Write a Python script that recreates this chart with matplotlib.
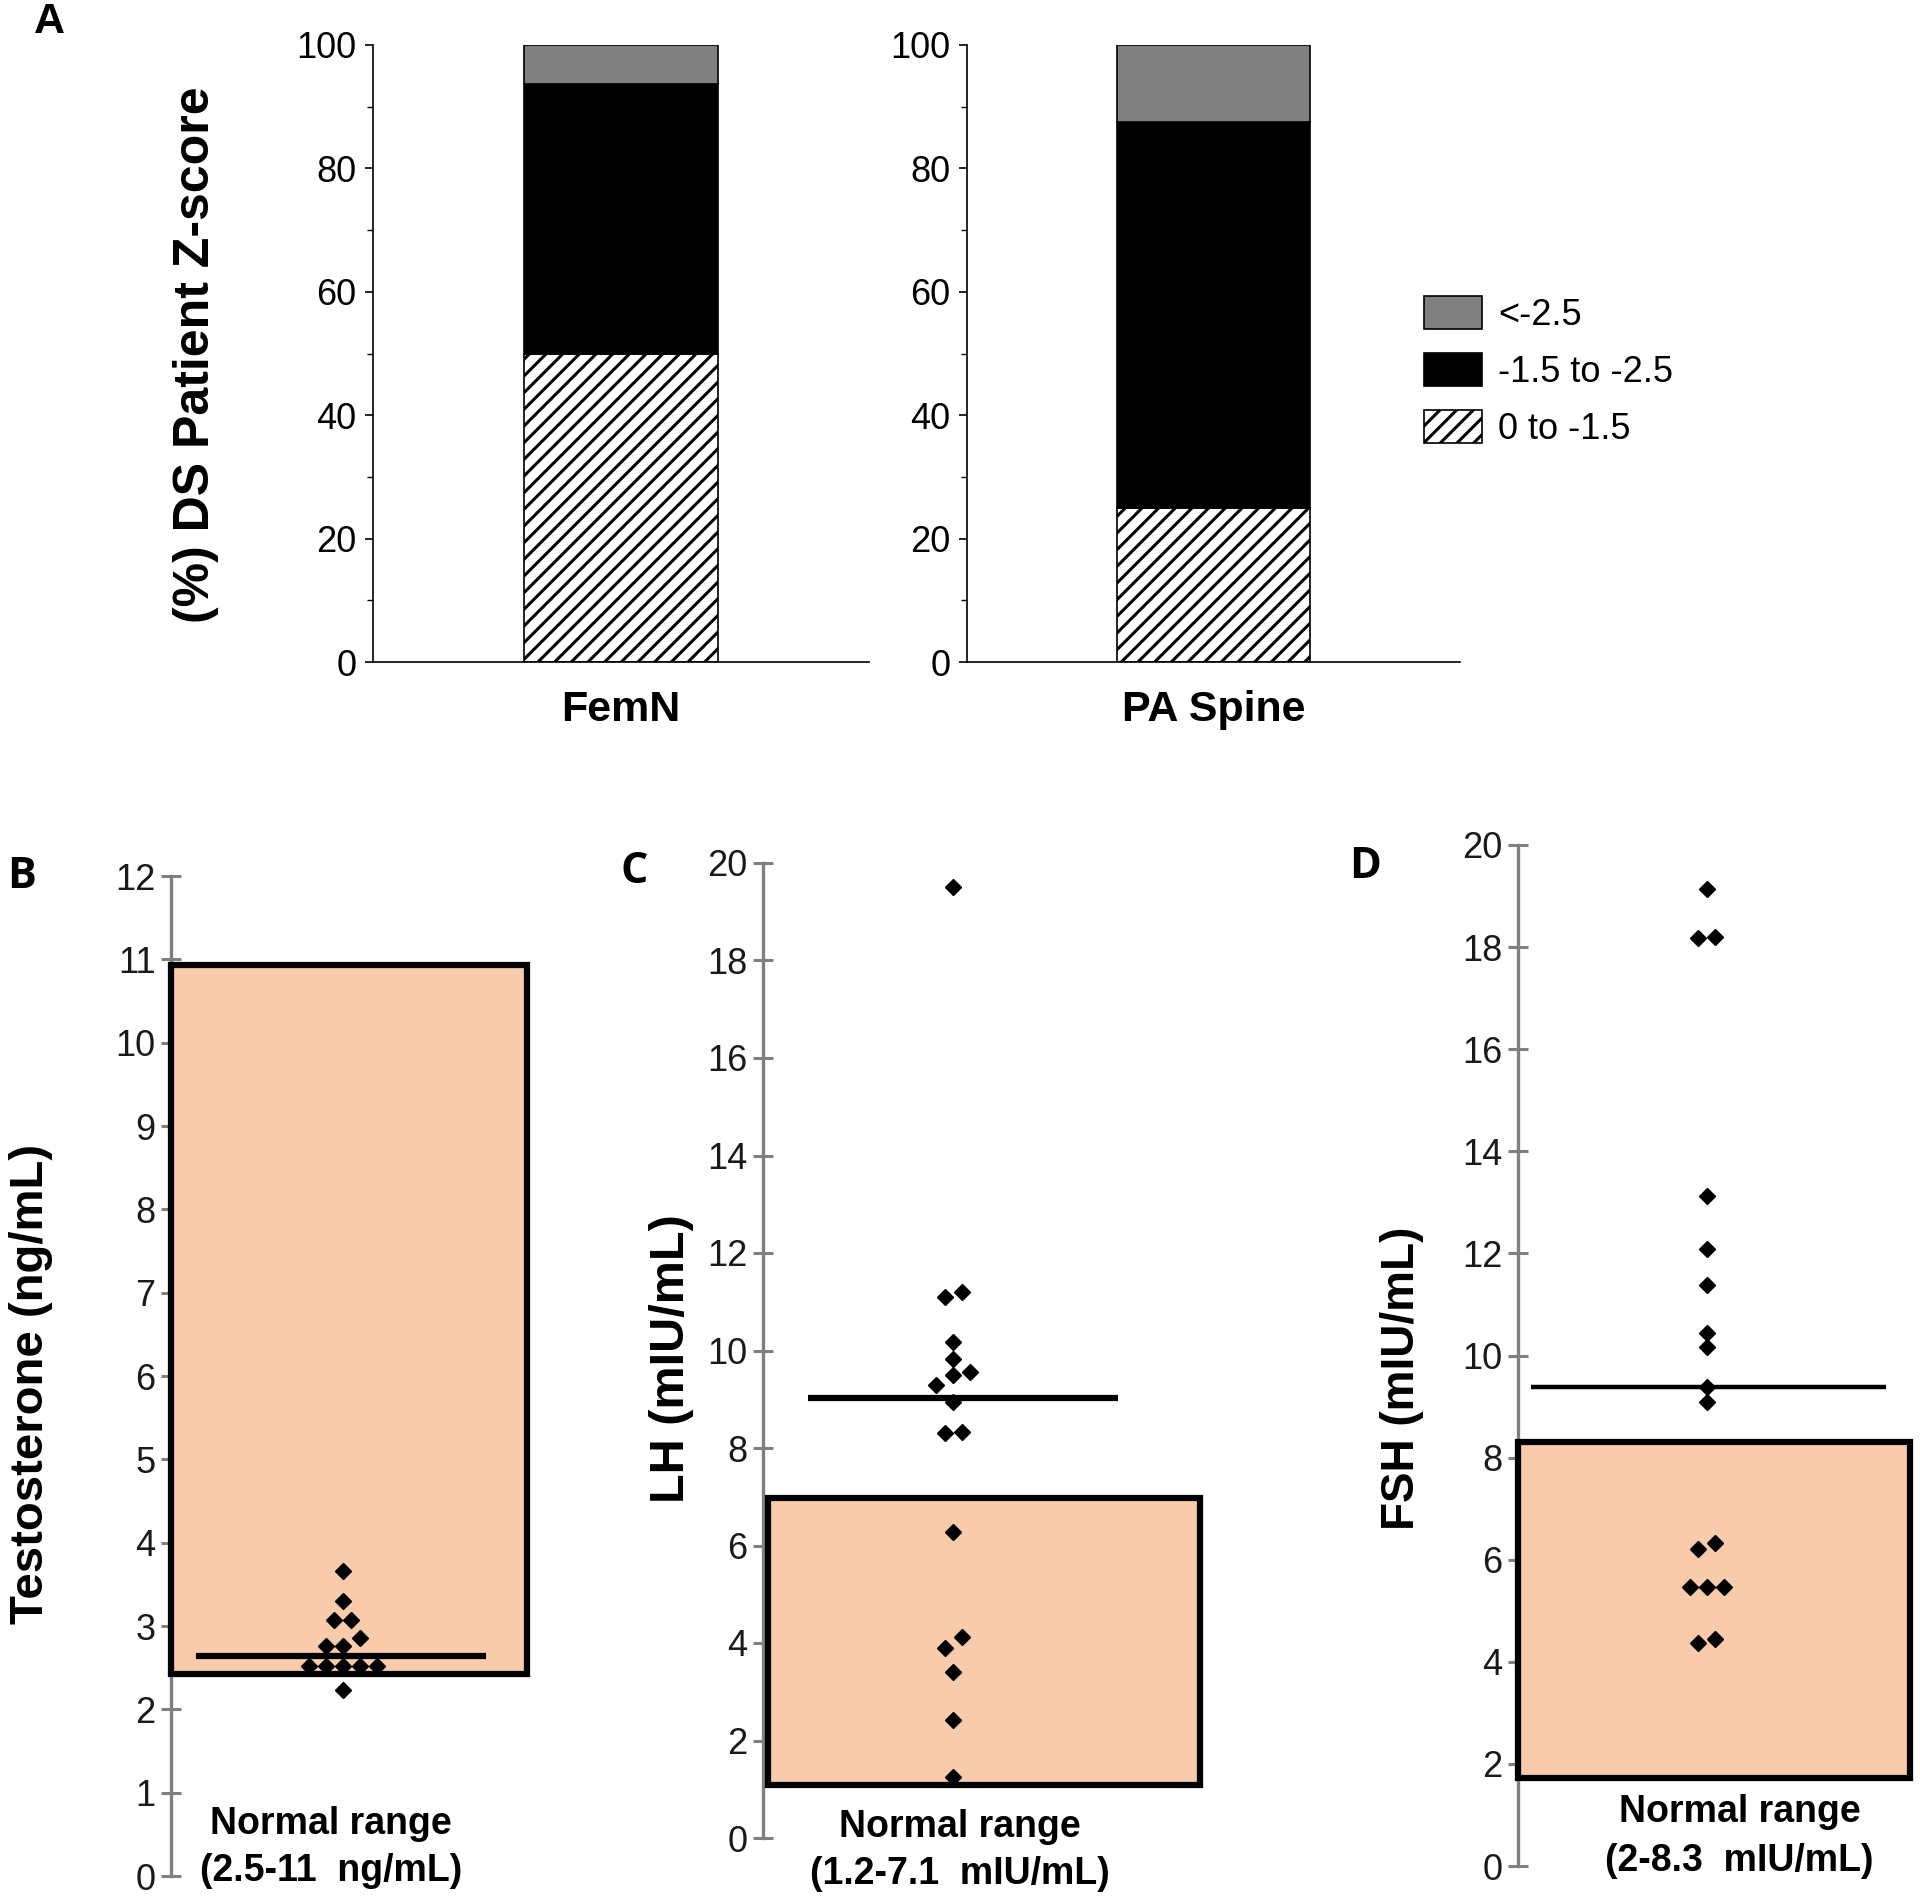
import numpy as np
import matplotlib
matplotlib.use('Agg')
import matplotlib.pyplot as plt
from matplotlib.patches import Rectangle, Patch

plt.rcParams['font.family'] = ['Liberation Sans', 'DejaVu Sans']
plt.rcParams['hatch.linewidth'] = 2.2

# ---- data ----
# panel A: share of DS patients per Z-score class (%)
sites = ['FemN', 'PA Spine']
z_classes = ['0 to -1.5', '-1.5 to -2.5', '<-2.5']
pct_0_to_15 = [50.0, 25.0]
pct_15_to_25 = [43.75, 62.5]
pct_below_25 = [6.25, 12.5]

# panels B-D: individual values, median line and drawn normal-range box
testosterone = [3.66, 3.30, 3.07, 3.07, 2.86, 2.76, 2.76, 2.52, 2.52, 2.52, 2.52, 2.52, 2.23]
lh = [19.5, 11.2, 11.1, 10.17, 9.83, 9.56, 9.50, 9.29, 8.94, 8.33, 8.31, 6.28,
      4.12, 3.90, 3.41, 2.42, 1.25]
fsh = [19.14, 18.2, 18.18, 13.12, 12.08, 11.38, 10.45, 10.16, 9.39, 9.08, 6.33, 6.20,
       5.47, 5.47, 5.47, 4.45, 4.37]

testo_median = 2.64
lh_median = 9.03
fsh_median = 9.38

testo_range = (2.42, 10.93)
lh_range = (1.09, 6.97)
fsh_range = (1.73, 8.31)

testo_label = '(2.5-11  ng/mL)'
lh_label = '(1.2-7.1  mIU/mL)'
fsh_label = '(2-8.3  mIU/mL)'

W, H = 1920, 1900
fig = plt.figure(figsize=(W / 100, H / 100), dpi=100)


def px_axes(left, top, right, bottom):
    # axes placed by pixel edges of the reference
    return fig.add_axes([left / W, 1 - bottom / H, (right - left) / W, (bottom - top) / H])


# ---------------- panel A ----------------
axes_a = [px_axes(373, 45, 869, 662), px_axes(967, 45, 1460, 662)]
for i, ax in enumerate(axes_a):
    ax.bar(0, pct_0_to_15[i], width=0.39, color='white', edgecolor='black',
           hatch='//', lw=1.2)
    ax.bar(0, pct_15_to_25[i], width=0.39, bottom=pct_0_to_15[i], color='black',
           edgecolor='black', lw=1.2)
    ax.bar(0, pct_below_25[i], width=0.39,
           bottom=pct_0_to_15[i] + pct_15_to_25[i], color='#808080',
           edgecolor='black', lw=1.2)
    ax.set_xlim(-0.5, 0.5)
    ax.set_ylim(0, 100)
    ax.spines['top'].set_visible(False)
    ax.spines['right'].set_visible(False)
    ax.spines['left'].set_linewidth(1.2)
    ax.spines['bottom'].set_linewidth(1.2)
    ax.set_yticks(range(0, 101, 20))
    ax.set_yticks(range(10, 100, 20), minor=True)
    ax.tick_params(axis='y', which='major', labelsize=26, length=6, width=1.2, pad=6)
    ax.tick_params(axis='y', which='minor', length=4, width=1.0)
    ax.set_xticks([0])
    ax.set_xticklabels([sites[i]], fontsize=31, fontweight='bold')
    ax.tick_params(axis='x', length=0, pad=20)

fig.text(196 / W, 1 - 355 / H, '(%) DS Patient Z-score', rotation=90, ha='center',
         va='center', fontsize=36, fontweight='bold')

handles = [Patch(facecolor='#808080', edgecolor='black', lw=1.2),
           Patch(facecolor='black', edgecolor='black', lw=1.2),
           Patch(facecolor='white', edgecolor='black', hatch='//', lw=1.2)]
fig.legend(handles, z_classes[::-1], loc='upper left',
           bbox_to_anchor=(1424 / W, 1 - 296 / H), frameon=False, fontsize=26,
           handlelength=1.6, handleheight=1.05, labelspacing=0.55,
           handletextpad=0.45, borderpad=0, borderaxespad=0)


# ---------------- panels B-D ----------------
def swarm_x(ax, vals, x0, step_px=17, tol_px=12):
    ypx = ax.transData.transform(np.column_stack([np.zeros(len(vals)), vals]))[:, 1]
    order = np.argsort(ypx)
    offs = np.zeros(len(vals))
    groups, cur = [], [order[0]]
    for k in order[1:]:
        if ypx[k] - ypx[cur[-1]] <= tol_px:
            cur.append(k)
        else:
            groups.append(cur)
            cur = [k]
    groups.append(cur)
    for g in groups:
        n = len(g)
        for j, k in enumerate(g):
            offs[k] = (j - (n - 1) / 2) * step_px
    x0lim, x1lim = ax.get_xlim()
    return x0 + offs / ax.bbox.width * (x1lim - x0lim)


def hormone_panel(box, ylim, step, vals, med, rng, rect_x, line_x, pt_x, txt_x, txt_y,
                  range_label, ylabel, ylabel_xy, letter, letter_xy, med_lw, ylabel_fs):
    ax = px_axes(*box)
    ax.set_xlim(0, 1)
    ax.set_ylim(0, ylim)
    for s in ['top', 'right', 'bottom']:
        ax.spines[s].set_visible(False)
    ax.spines['left'].set_color('#808080')
    ax.spines['left'].set_linewidth(2.4)
    ax.set_xticks([])
    ax.set_yticks(np.arange(0, ylim + 0.01, step))
    ax.tick_params(axis='y', direction='inout', length=14, width=2.2, color='#808080',
                   labelsize=26, labelcolor='#1a1a1a', pad=4)
    ax.add_patch(Rectangle((rect_x[0], rng[0]), rect_x[1] - rect_x[0], rng[1] - rng[0],
                           facecolor='#F8CBAD', edgecolor='black', lw=4.5, zorder=3,
                           clip_on=False))
    ax.plot(line_x, [med, med], color='black', lw=med_lw, zorder=4,
            solid_capstyle='butt')
    ax.plot(swarm_x(ax, vals, pt_x), vals, 'D', color='black', ms=8.5, zorder=5,
            clip_on=False)
    ax.text(txt_x, txt_y[0], 'Normal range', ha='center', va='center', fontsize=27,
            fontweight='bold')
    ax.text(txt_x, txt_y[1], range_label, ha='center', va='center', fontsize=27,
            fontweight='bold')
    fig.text(ylabel_xy[0] / W, 1 - ylabel_xy[1] / H, ylabel, rotation=90, ha='center',
             va='center', fontsize=ylabel_fs, fontweight='bold')
    fig.text(letter_xy[0] / W, 1 - letter_xy[1] / H, letter, ha='center', va='center',
             fontsize=31, fontweight='bold', family='Open Sans')
    return ax


hormone_panel((171, 876, 527, 1876), 12, 1, testosterone, testo_median, testo_range,
              (0, 1), (0.07, 0.885), 0.483, 0.45, (0.62, 0.06), testo_label,
              'Testosterone (ng/mL)', (31, 1384), 'B', (22, 876), 4.5, 34)
hormone_panel((763, 863, 1200, 1838), 20, 2, lh, lh_median, lh_range,
              (0.011, 1), (0.103, 0.812), 0.435, 0.45, (0.23, -0.73), lh_label,
              'LH (mIU/mL)', (671, 1359), 'C', (634, 872), 4.5, 35)
hormone_panel((1518, 845, 1910, 1866), 20, 2, fsh, fsh_median, fsh_range,
              (0, 1), (0.033, 0.939), 0.482, 0.565, (1.06, 0.1), fsh_label,
              'FSH (mIU/mL)', (1402, 1378), 'D', (1365, 866), 3.2, 33)

fig.text(49 / W, 1 - 22 / H, 'A', ha='center', va='center', fontsize=31,
         fontweight='bold')

fig.savefig('out.png', dpi=100)
